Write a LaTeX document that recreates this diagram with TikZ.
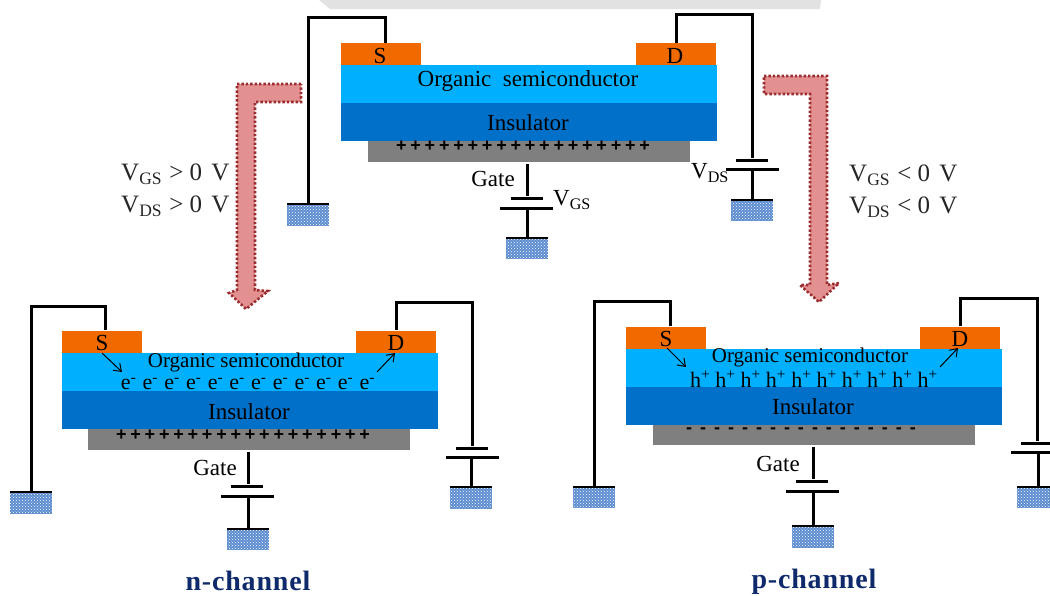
\documentclass[tikz,border=0pt]{standalone}
\usepackage{fontspec}
\setmainfont{Liberation Serif}
\newfontfamily\titlefont[LetterSpace=3]{Liberation Serif}
\newfontfamily\signfont{Liberation Sans}
\usetikzlibrary{arrows.meta, patterns}
\definecolor{contactorg}{HTML}{F06A00}
\definecolor{semiblue}{HTML}{00B0FF}
\definecolor{insulblue}{HTML}{0070C8}
\definecolor{gategray}{HTML}{7F7F7F}
\definecolor{gndblue}{HTML}{5C8CD0}
\definecolor{arrowfill}{HTML}{E39090}
\definecolor{arrowedge}{HTML}{9B2D30}
\definecolor{titlenavy}{HTML}{0F2A6B}
\definecolor{bandgray}{HTML}{E2E2E2}
\newcommand{\chargerow}[3]{\foreach \i in {2,...,#1}{#2\kern#3}#2}

\begin{document}
\begin{tikzpicture}[
    x=1pt, y=-1pt,
    every node/.style={inner sep=0pt, text=black},
    contactbox/.style={fill=contactorg, minimum width=80pt, minimum height=22pt},
    semibox/.style={fill=semiblue, minimum width=376pt, minimum height=38pt},
    insulbox/.style={fill=insulblue, minimum width=376pt, minimum height=38pt},
    gatebox/.style={fill=gategray, minimum width=322pt, minimum height=21pt},
    gndbox/.style={fill=gndblue, minimum width=42pt, minimum height=21pt,
      postaction={pattern=crosshatch dots, pattern color=white}},
    plateshort/.style={fill=black, minimum width=32pt, minimum height=3pt},
    platelong/.style={fill=black, minimum width=53pt, minimum height=3pt},
    wire/.style={draw=black, line width=3pt},
    gndtop/.style={draw=black, line width=2pt},
    flowarrow/.style={-{Straight Barb[length=7pt, width=10pt]}, line width=1pt},
    bigarrow/.style={fill=arrowfill, draw=arrowedge, line width=2.6pt,
      dash pattern=on 2.4pt off 2pt},
    bigtext/.style={font=\fontsize{23}{25}\selectfont},
    smalltext/.style={font=\fontsize{21}{23}\selectfont},
    pintext/.style={font=\fontsize{23}{25}\selectfont},
    chargetext/.style={font=\fontsize{22}{24}\selectfont},
    signtext/.style={font=\fontsize{18}{20}\selectfont\signfont\bfseries},
    condtext/.style={font=\fontsize{25}{32}\selectfont, align=left, text=black!85},
    titletext/.style={font=\fontsize{28}{30}\selectfont\titlefont\bfseries, text=titlenavy, anchor=base},
  ]
  \useasboundingbox (0,0) rectangle (1050,595);

  % Band along the top edge
  \fill[bandgray] (319,0) -- (330,9) -- (820,9) -- (821,0) -- cycle;

  % === Top device ===
  \node[gatebox] (topgate) at (529,151.5) {};
  \node[semibox] (topsemi) at (529,84) {};
  \node[insulbox] (topinsul) at (529,122) {};
  \node[contactbox] (topS) at (381,54) {};
  \node[contactbox] (topD) at (676,54) {};
  \node[pintext] (topSlabel) at (380,56) {S};
  \node[pintext] (topDlabel) at (675,56) {D};
  \node[bigtext] (topsemilabel) at (528,81) {Organic\ \ semiconductor};
  \node[bigtext] (topinsullabel) at (528,123) {Insulator};
  \node[signtext] (topplus) at (523,146.5) {\chargerow{18}{+}{3.8pt}};

  \node[gndbox] (topgndS) at (308,215) {};
  \node[gndbox] (topgndD) at (752,210.5) {};
  \node[gndbox] (topgndG) at (527,248.5) {};
  \node[plateshort] (topDshort) at (752,160) {};
  \node[platelong] (topDlong) at (752,169) {};
  \node[plateshort] (topGshort) at (527,198) {};
  \node[platelong] (topGlong) at (526,208) {};
  \draw[gndtop] (topgndS.north west) -- (topgndS.north east);
  \draw[gndtop] (topgndD.north west) -- (topgndD.north east);
  \draw[gndtop] (topgndG.north west) -- (topgndG.north east);

  \draw[wire] ([xshift=4pt]topS.north) -- ++(0,-25) -| (topgndS.north);
  \draw[wire] (topD.north) -- ++(0,-28) -| (topDshort.north);
  \draw[wire] (topDlong.south) -- (topgndD.north);
  \draw[wire, shorten <=2pt] (topgate.south -| topgndG.north) -- (topGshort.north);
  \draw[wire] (topGlong.south -| topgndG.north) -- (topgndG.north);

  \node[bigtext] (topgatelabel) at (493,179) {Gate};
  \node[bigtext] (topVGS) at (572,200) {V\textsubscript{GS}};
  \node[bigtext] (topVDS) at (710,173) {V\textsubscript{DS}};

  % === Arrows from top device ===
  \path[bigarrow] (301,84) -- (237,84) -- (237,290) -- (229,293) -- (246,309)
    -- (268,291) -- (255,290) -- (255,102) -- (301,102) -- cycle;
  \path[bigarrow] (764,76) -- (827,76) -- (827,285) -- (839,283) -- (819,302)
    -- (800,285) -- (810,285) -- (810,94) -- (764,94) -- cycle;

  \node[condtext, anchor=west] (condleft) at (121,190)
    {V\textsubscript{GS}\kern1pt\ > 0\kern1pt\ \kern2pt V\\V\textsubscript{DS}\kern1pt\ > 0\kern1pt\ \kern2pt V};
  \node[condtext, anchor=west] (condright) at (849,191)
    {V\textsubscript{GS}\kern1pt\ < 0\kern1pt\ \kern2pt V\\V\textsubscript{DS}\kern1pt\ < 0\kern1pt\ \kern2pt V};

  % === n-channel device ===
  \node[gatebox] (ngate) at (249,439) {};
  \node[semibox] (nsemi) at (250,371.5) {};
  \node[insulbox] (ninsul) at (250,409.5) {};
  \node[contactbox] (nS) at (102,341.5) {};
  \node[contactbox] (nD) at (396,341.5) {};
  \node[pintext] (nSlabel) at (102,343) {S};
  \node[pintext] (nDlabel) at (396,343) {D};
  \node[smalltext] (nsemilabel) at (246,362) {Organic semiconductor};
  \node[chargetext] (nelectrons) at (248,384)
    {\chargerow{12}{e\textsuperscript{-}}{6.3pt}};
  \node[bigtext] (ninsullabel) at (249,412) {Insulator};
  \node[signtext] (nplus) at (243,435.5) {\chargerow{18}{+}{3.8pt}};

  \node[gndbox] (ngndS) at (31,503) {};
  \node[gndbox] (ngndD) at (471,498) {};
  \node[gndbox] (ngndG) at (248,539.5) {};
  \node[plateshort] (nDshort) at (472,448) {};
  \node[platelong] (nDlong) at (472,457) {};
  \node[plateshort] (nGshort) at (247,486) {};
  \node[platelong] (nGlong) at (247,496) {};
  \draw[gndtop] (ngndS.north west) -- (ngndS.north east);
  \draw[gndtop] (ngndD.north west) -- (ngndD.north east);
  \draw[gndtop] (ngndG.north west) -- (ngndG.north east);

  \draw[wire] ([xshift=3pt]nS.north) -- ++(0,-24) -| (ngndS.north);
  \draw[wire] (nD.north) -- ++(0,-28) -| (nDshort.north);
  \draw[wire] (nDlong.south -| ngndD.north) -- (ngndD.north);
  \draw[wire, shorten <=2pt] (ngate.south -| ngndG.north) -- (nGshort.north -| ngndG.north);
  \draw[wire] (nGlong.south -| ngndG.north) -- (ngndG.north);

  \coordinate (nflowSa) at (102,353);
  \coordinate (nflowSb) at (122,372);
  \coordinate (nflowDa) at (377,372);
  \coordinate (nflowDb) at (395,353);
  \draw[flowarrow] (nflowSa) -- (nflowSb);
  \draw[flowarrow] (nflowDa) -- (nflowDb);

  \node[bigtext] (ngatelabel) at (215,468) {Gate};
  \node[titletext] (ntitle) at (248,590) {n-channel};

  % === p-channel device ===
  \node[gatebox] (pgate) at (814,434.5) {};
  \node[semibox] (psemi) at (814,367.5) {};
  \node[insulbox] (pinsul) at (814,405.5) {};
  \node[contactbox] (pS) at (666,337.5) {};
  \node[contactbox] (pD) at (960,337.5) {};
  \node[pintext] (pSlabel) at (666,339) {S};
  \node[pintext] (pDlabel) at (960,339) {D};
  \node[smalltext] (psemilabel) at (810,357) {Organic semiconductor};
  \node[chargetext] (pholes) at (814,379)
    {\chargerow{10}{h\textsuperscript{+}}{5.1pt}};
  \node[bigtext] (pinsullabel) at (813,407) {Insulator};
  \node[signtext] (pminus) at (801,431) {\chargerow{17}{-}{8pt}};

  \node[gndbox] (pgndS) at (594,497.5) {};
  \node[gndbox] (pgndD) at (1038,497.5) {};
  \node[gndbox] (pgndG) at (813,537) {};
  \node[plateshort] (pDshort) at (1037,443) {};
  \node[platelong] (pDlong) at (1037,452) {};
  \node[plateshort] (pGshort) at (812,481) {};
  \node[platelong] (pGlong) at (812,491) {};
  \draw[gndtop] (pgndS.north west) -- (pgndS.north east);
  \draw[gndtop] (pgndD.north west) -- (pgndD.north east);
  \draw[gndtop] (pgndG.north west) -- (pgndG.north east);

  \draw[wire] ([xshift=4pt]pS.north) -- ++(0,-25) -| (pgndS.north);
  \draw[wire] (pD.north) -- ++(0,-28) -| (pDshort.north);
  \draw[wire] (pDlong.south -| pgndD.north) -- (pgndD.north);
  \draw[wire, shorten <=2pt] (pgate.south -| pgndG.north) -- (pGshort.north -| pgndG.north);
  \draw[wire] (pGlong.south -| pgndG.north) -- (pgndG.north);

  \coordinate (pflowSa) at (667,348);
  \coordinate (pflowSb) at (686,367);
  \coordinate (pflowDa) at (940,367);
  \coordinate (pflowDb) at (958,348);
  \draw[flowarrow] (pflowSa) -- (pflowSb);
  \draw[flowarrow] (pflowDa) -- (pflowDb);

  \node[bigtext] (pgatelabel) at (778,464) {Gate};
  \node[titletext] (ptitle) at (814,588) {p-channel};

\end{tikzpicture}
\end{document}
